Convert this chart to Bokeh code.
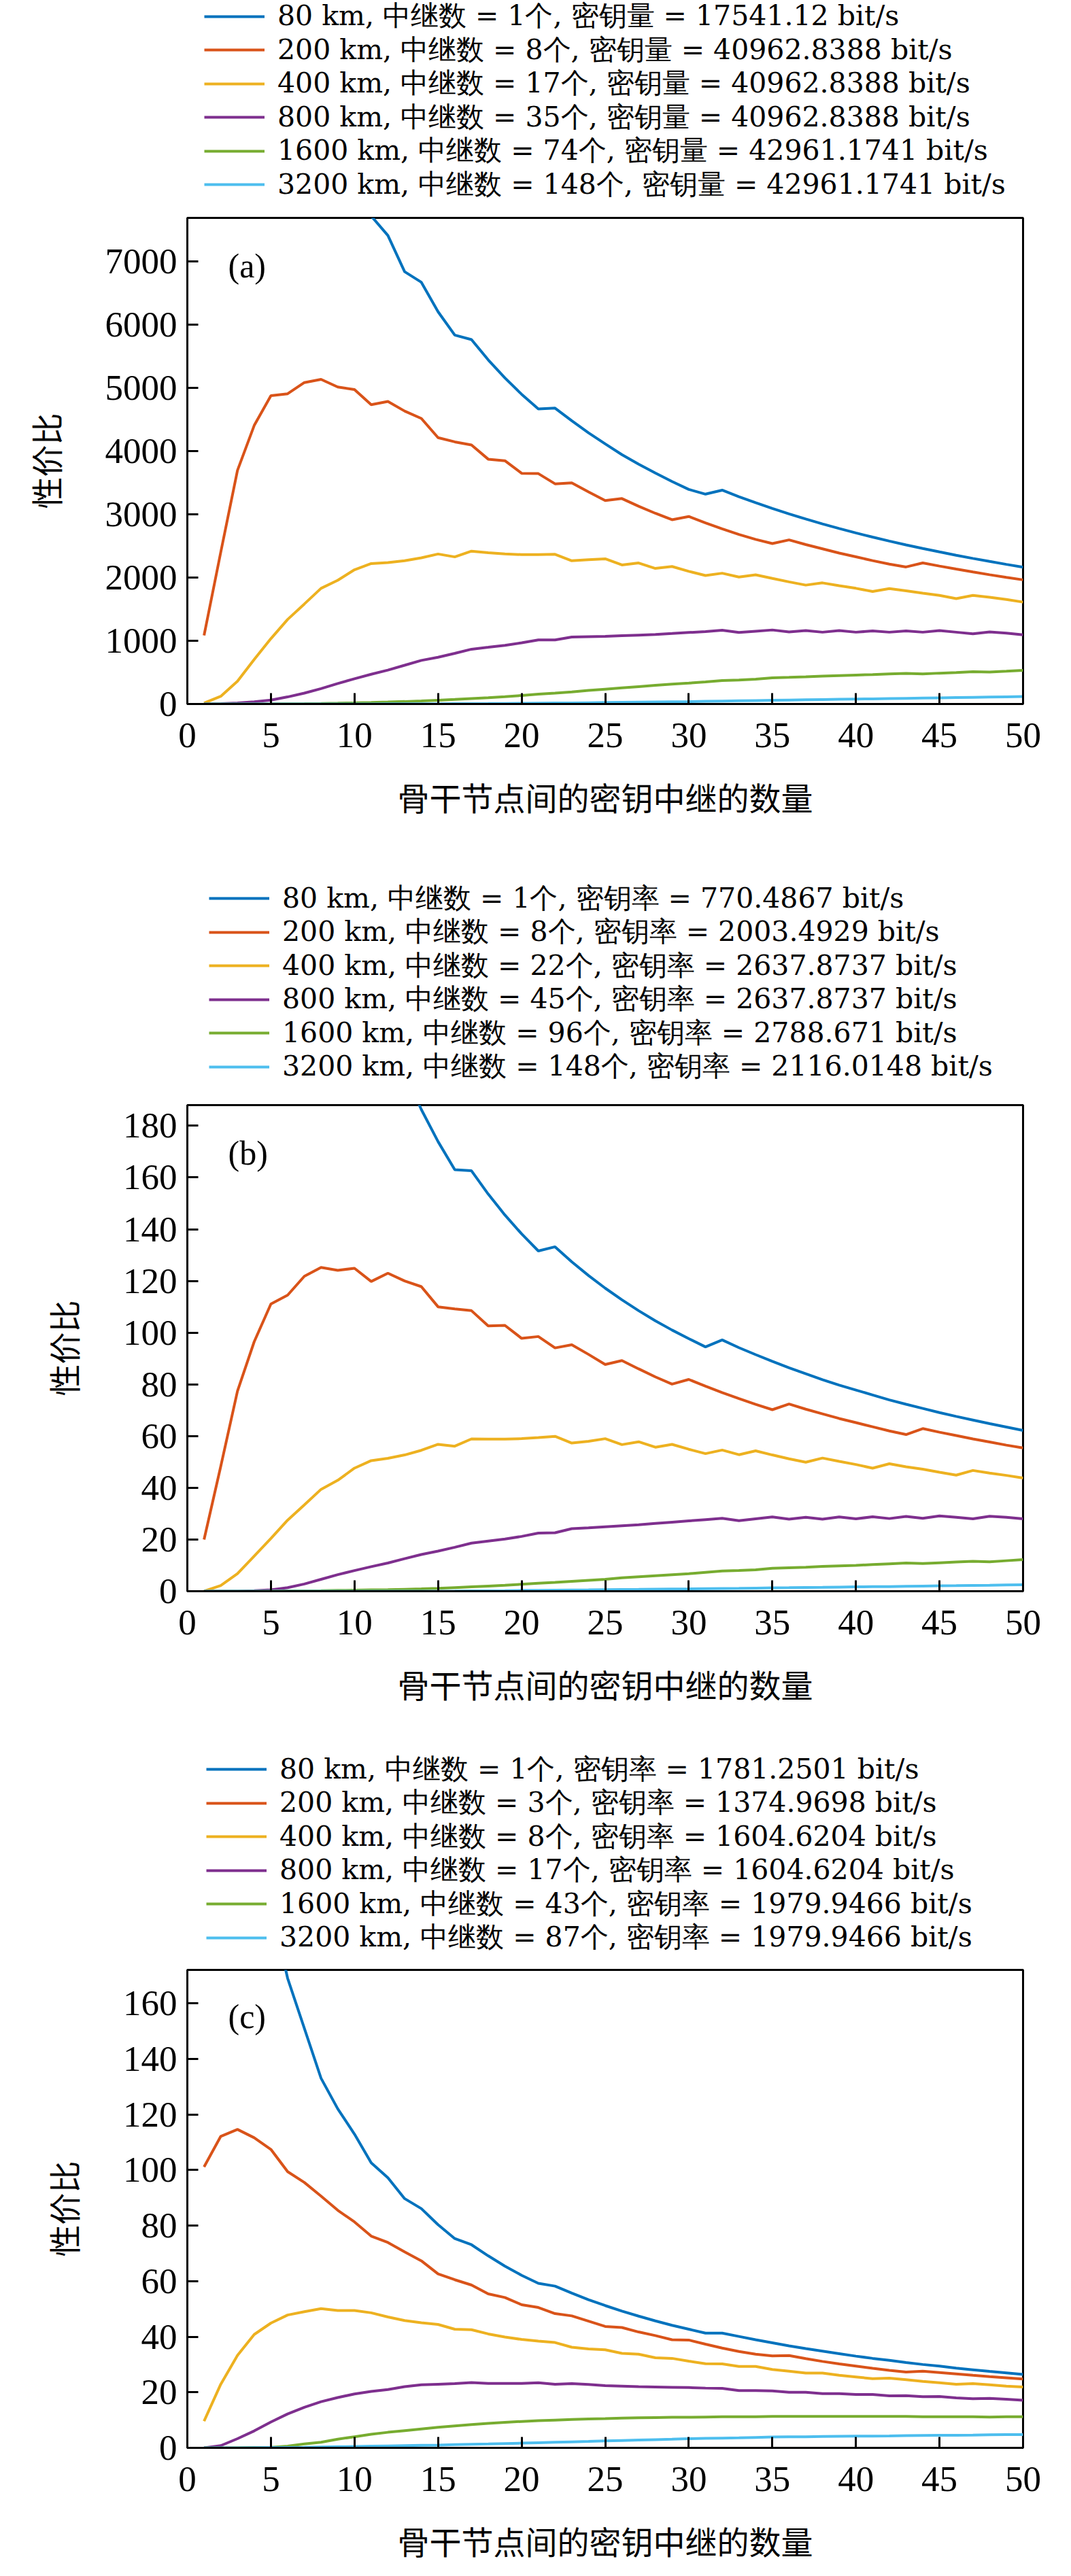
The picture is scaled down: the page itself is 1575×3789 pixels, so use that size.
from bokeh.plotting import figure
from bokeh.models import Legend, LegendItem, Range1d, FixedTicker, Label
from bokeh.layouts import column
from bokeh.embed import file_html
from bokeh.resources import INLINE

# ---------------- data ----------------
relays = list(range(1, 51))
x_ticks = [0, 5, 10, 15, 20, 25, 30, 35, 40, 45, 50]
colors = ["#0072BD", "#D95319", "#EDB120", "#7E2F8E", "#77AC30", "#4DBEEE"]
distances = ["80 km", "200 km", "400 km", "800 km", "1600 km", "3200 km"]

# panel (a)
a_counts = ["1", "8", "17", "35", "74", "148"]
a_rates = ["17541.12", "40962.8388", "40962.8388", "40962.8388", "42961.1741", "42961.1741"]
a_y_ticks = [0, 1000, 2000, 3000, 4000, 5000, 6000, 7000]
a_80 = [30000, 22000, 18000, 15000, 13000, 11500, 10300, 9400, 8700, 8150,
        7720, 7412, 6839, 6672, 6206, 5836, 5765, 5444, 5158, 4900,
        4667, 4680, 4480, 4290, 4115, 3945, 3795, 3655, 3520, 3395,
        3320, 3383, 3280, 3184, 3093, 3007, 2926, 2849, 2776, 2706,
        2640, 2577, 2517, 2460, 2406, 2353, 2303, 2255, 2209, 2165]
a_200 = [1085, 2403, 3696, 4406, 4877, 4908, 5085, 5136, 5014, 4974,
         4735, 4786, 4634, 4517, 4213, 4147, 4097, 3873, 3848, 3650,
         3645, 3483, 3498, 3356, 3219, 3250, 3128, 3017, 2915, 2966,
         2865, 2770, 2682, 2604, 2538, 2596, 2522, 2455, 2388, 2328,
         2268, 2213, 2168, 2231, 2182, 2134, 2089, 2045, 2004, 1964]
a_400 = [15, 122, 360, 705, 1034, 1338, 1582, 1830, 1957, 2124,
         2221, 2236, 2266, 2312, 2373, 2327, 2418, 2393, 2373, 2363,
         2363, 2368, 2266, 2282, 2297, 2200, 2231, 2145, 2175, 2099,
         2033, 2069, 2008, 2043, 1987, 1932, 1881, 1916, 1871, 1830,
         1780, 1825, 1790, 1754, 1719, 1668, 1719, 1688, 1653, 1612]
a_800 = [0, 5, 15, 35, 61, 112, 172, 243, 324, 400,
         471, 537, 613, 690, 740, 801, 867, 897, 928, 968,
         1014, 1014, 1060, 1065, 1070, 1080, 1090, 1100, 1115, 1131,
         1146, 1166, 1131, 1151, 1171, 1141, 1161, 1136, 1161, 1136,
         1156, 1136, 1156, 1136, 1161, 1136, 1110, 1141, 1120, 1095]
a_1600 = [0, 0, 0, 1, 2, 4, 6, 9, 13, 18,
          24, 31, 39, 48, 60, 72, 86, 100, 115, 135,
          155, 172, 190, 215, 235, 255, 275, 295, 315, 330,
          350, 372, 380, 392, 415, 422, 430, 440, 450, 458,
          465, 475, 485, 475, 488, 498, 510, 505, 518, 532]
a_3200 = [0, 0, 0, 0, 0, 0, 0, 0, 0, 1,
          1, 2, 2, 3, 4, 5, 6, 7, 9, 11,
          13, 15, 17, 20, 23, 26, 29, 32, 35, 38,
          42, 46, 50, 54, 58, 62, 66, 70, 74, 78,
          82, 86, 90, 94, 98, 102, 106, 110, 114, 118]

# panel (b)
b_counts = ["1", "8", "22", "45", "96", "148"]
b_rates = ["770.4867", "2003.4929", "2637.8737", "2637.8737", "2788.671", "2116.0148"]
b_y_ticks = [0, 20, 40, 60, 80, 100, 120, 140, 160, 180]
b_80 = [770, 600, 500, 430, 380, 340, 310, 285, 262, 243,
        228, 214, 200.6, 186.3, 173.9, 163.0, 162.6, 153.6, 145.5, 138.2,
        131.6, 133.2, 127.4, 122.1, 117.2, 112.7, 108.5, 104.6, 101.0, 97.7,
        94.5, 97.2, 94.2, 91.5, 88.9, 86.4, 84.1, 81.8, 79.7, 77.8,
        75.9, 74.0, 72.3, 70.7, 69.1, 67.6, 66.2, 64.8, 63.5, 62.2]
b_200 = [20.0, 48.3, 77.4, 96.5, 111.1, 114.5, 121.8, 125.2, 124.1, 124.9,
         119.8, 123.0, 120.0, 117.8, 110.0, 109.2, 108.5, 102.6, 102.8, 97.8,
         98.5, 94.1, 95.3, 91.6, 87.7, 89.2, 86.0, 82.9, 80.1, 81.9,
         79.3, 76.8, 74.5, 72.3, 70.2, 72.4, 70.4, 68.6, 66.8, 65.2,
         63.6, 62.0, 60.6, 62.9, 61.5, 60.2, 58.9, 57.7, 56.5, 55.4]
b_400 = [0, 2.2, 6.8, 13.6, 20.4, 27.5, 33.4, 39.4, 42.9, 47.6,
         50.5, 51.4, 52.7, 54.5, 56.8, 56.1, 58.9, 58.8, 58.8, 59.0,
         59.4, 59.9, 57.3, 58.0, 59.0, 56.7, 57.8, 55.7, 56.8, 54.9,
         53.2, 54.6, 52.8, 54.3, 52.7, 51.2, 49.9, 51.5, 50.2, 49.0,
         47.6, 49.3, 48.1, 47.2, 46.0, 44.9, 46.7, 45.7, 44.8, 43.8]
b_800 = [0, 0, 0, 0.2, 0.5, 1.4, 2.8, 4.6, 6.4, 8.0,
         9.5, 10.9, 12.6, 14.2, 15.5, 17.0, 18.6, 19.4, 20.2, 21.2,
         22.5, 22.6, 24.2, 24.5, 24.9, 25.3, 25.7, 26.2, 26.7, 27.2,
         27.7, 28.2, 27.3, 28.0, 28.7, 27.9, 28.6, 27.9, 28.7, 28.0,
         28.8, 28.1, 28.9, 28.2, 29.1, 28.6, 28.0, 29.0, 28.6, 28.0]
b_1600 = [0, 0, 0, 0, 0.05, 0.1, 0.15, 0.2, 0.3, 0.4,
          0.5, 0.6, 0.75, 0.9, 1.1, 1.4, 1.7, 2.0, 2.3, 2.7,
          3.1, 3.4, 3.8, 4.2, 4.6, 5.2, 5.6, 6.0, 6.4, 6.8,
          7.3, 7.8, 8.0, 8.3, 8.9, 9.1, 9.3, 9.6, 9.8, 10.0,
          10.3, 10.6, 10.9, 10.7, 11.0, 11.3, 11.6, 11.4, 11.8, 12.2]
b_3200 = [0, 0, 0, 0, 0, 0, 0, 0, 0, 0,
          0, 0, 0, 0, 0.02, 0.05, 0.1, 0.15, 0.2, 0.3,
          0.35, 0.4, 0.45, 0.5, 0.6, 0.65, 0.7, 0.78, 0.85, 0.9,
          1.0, 1.05, 1.1, 1.2, 1.3, 1.35, 1.45, 1.5, 1.6, 1.7,
          1.75, 1.8, 1.9, 2.0, 2.1, 2.15, 2.25, 2.3, 2.4, 2.5]

# panel (c)
c_counts = ["1", "3", "8", "17", "43", "87"]
c_rates = ["1781.2501", "1374.9698", "1604.6204", "1604.6204", "1979.9466", "1979.9466"]
c_y_ticks = [0, 20, 40, 60, 80, 100, 120, 140, 160]
c_80 = [800, 420, 300, 240, 195, 169, 151, 133, 122, 112.9,
        102.6, 97.2, 89.7, 86.1, 80.3, 75.3, 73.1, 69.1, 65.4, 62.1,
        59.2, 58.2, 55.7, 53.3, 51.2, 49.2, 47.4, 45.7, 44.1, 42.7,
        41.3, 41.3, 40.1, 38.9, 37.8, 36.7, 35.7, 34.8, 33.9, 33.0,
        32.2, 31.5, 30.7, 30.0, 29.4, 28.7, 28.1, 27.5, 27.0, 26.4]
c_200 = [101.1, 112.1, 114.6, 111.6, 107.4, 99.4, 95.5, 90.6, 85.5, 81.3,
         76.2, 73.9, 70.5, 67.3, 62.6, 60.5, 58.6, 55.4, 54.1, 51.5,
         50.5, 48.3, 47.5, 45.6, 43.7, 43.3, 41.7, 40.4, 38.9, 38.8,
         37.3, 35.9, 34.7, 33.7, 33.1, 33.2, 32.1, 31.1, 30.2, 29.4,
         28.6, 27.9, 27.3, 27.6, 27.1, 26.6, 26.1, 25.6, 25.2, 24.8]
c_400 = [9.6, 22.9, 33.3, 40.8, 44.9, 47.8, 49.0, 50.1, 49.4, 49.4,
         48.6, 47.1, 45.8, 45.0, 44.4, 42.7, 42.5, 41.0, 39.9, 39.0,
         38.4, 37.9, 36.2, 35.6, 35.3, 34.0, 33.7, 32.4, 32.2, 31.2,
         30.3, 30.2, 29.3, 29.3, 28.2, 27.6, 26.9, 26.9, 26.1, 25.5,
         24.9, 25.1, 24.5, 23.9, 23.4, 22.9, 23.1, 22.7, 22.2, 21.9]
c_800 = [0, 0.8, 3.3, 6.1, 9.3, 12.2, 14.6, 16.6, 18.1, 19.4,
         20.3, 21.0, 22.0, 22.7, 22.9, 23.1, 23.5, 23.2, 23.2, 23.2,
         23.4, 22.9, 23.1, 22.8, 22.4, 22.2, 22.0, 21.9, 21.8, 21.7,
         21.5, 21.4, 20.6, 20.6, 20.5, 20.0, 20.0, 19.5, 19.5, 19.2,
         19.2, 18.7, 18.8, 18.4, 18.5, 18.0, 17.7, 17.8, 17.5, 17.1]
c_1600 = [0, 0, 0, 0.1, 0.2, 0.6, 1.4, 2.0, 3.1, 4.0,
          4.9, 5.6, 6.2, 6.8, 7.4, 7.9, 8.4, 8.8, 9.2, 9.5,
          9.8, 10.0, 10.2, 10.4, 10.5, 10.7, 10.8, 10.9, 11.0, 11.0,
          11.1, 11.2, 11.2, 11.2, 11.3, 11.3, 11.3, 11.3, 11.3, 11.3,
          11.3, 11.3, 11.3, 11.2, 11.2, 11.2, 11.2, 11.1, 11.2, 11.2]
c_3200 = [0, 0, 0, 0.05, 0.1, 0.15, 0.2, 0.3, 0.4, 0.5,
          0.6, 0.7, 0.8, 0.9, 1.0, 1.15, 1.3, 1.4, 1.55, 1.7,
          1.85, 2.0, 2.15, 2.3, 2.5, 2.65, 2.8, 2.95, 3.1, 3.3,
          3.4, 3.5, 3.6, 3.75, 3.9, 3.95, 4.0, 4.1, 4.15, 4.2,
          4.25, 4.3, 4.4, 4.45, 4.5, 4.55, 4.6, 4.7, 4.75, 4.8]

x_label = "骨干节点间的密钥中继的数量"
y_label = "性价比"

CJK = "Noto Sans CJK SC"
W = 1559
FW = 1229
BL = 275
BR = W - BL - FW
LINE_W = 4
ROW = 49.5
BOX = 60


def make_legend_fig(series, counts, rates, rate_name, height, leg_x, first_center):
    # legend-only strip above each panel; its data lies outside the view
    q = figure(width=W, height=height, x_range=Range1d(-3, -2), y_range=Range1d(0, 1),
               output_backend="svg", toolbar_location=None,
               x_axis_location=None, y_axis_location=None,
               min_border_left=BL, min_border_right=BR,
               min_border_top=0, min_border_bottom=0,
               outline_line_color=None,
               background_fill_color="white", border_fill_color="white")
    q.grid.visible = False
    for i, (vals, col, dist, cnt, rate) in enumerate(zip(series, colors, distances, counts, rates)):
        r = q.line(relays, vals, line_color=col, line_width=LINE_W)
        lab = f"{dist}, 中继数 = {cnt}个, {rate_name} = {rate} bit/s"
        center = first_center + ROW * i
        leg = Legend(items=[LegendItem(label=lab, renderers=[r])],
                     location=(leg_x, height - center - BOX / 2),
                     padding=0, spacing=0, margin=0,
                     glyph_width=89, glyph_height=BOX, label_height=BOX,
                     label_standoff=19,
                     label_text_font="DejaVu Serif", label_text_font_size="41px",
                     label_text_baseline="middle",
                     label_text_color="black",
                     border_line_color=None, background_fill_alpha=0)
        q.add_layout(leg)
    return q


def make_panel(series, y_ticks, ymax, tag, height, border_top, frame_h):
    p = figure(width=W, height=height,
               x_range=Range1d(0, 50), y_range=Range1d(0, ymax),
               output_backend="svg", toolbar_location=None,
               min_border_left=BL, min_border_right=BR,
               min_border_top=border_top,
               min_border_bottom=height - border_top - frame_h,
               background_fill_color="white", border_fill_color="white")
    p.xgrid.visible = False
    p.ygrid.visible = False
    p.outline_line_color = "black"
    p.outline_line_width = 3
    p.outline_line_alpha = 1.0

    for ax in (p.xaxis[0], p.yaxis[0]):
        ax.axis_line_color = "black"
        ax.axis_line_width = 3
        ax.major_tick_in = 16
        ax.major_tick_out = 0
        ax.major_tick_line_width = 3
        ax.major_tick_line_color = "black"
        ax.minor_tick_line_color = None
        ax.major_label_text_font = "Liberation Serif"
        ax.major_label_text_font_size = "53px"
        ax.major_label_text_color = "black"
        ax.axis_label_text_font = CJK
        ax.axis_label_text_font_size = "47px"
        ax.axis_label_text_font_style = "normal"
        ax.axis_label_text_color = "black"

    p.xaxis.ticker = FixedTicker(ticks=x_ticks)
    p.yaxis.ticker = FixedTicker(ticks=y_ticks)
    p.xaxis.major_label_standoff = 28
    p.yaxis.major_label_standoff = 15
    p.xaxis.axis_label = x_label
    p.yaxis.axis_label = y_label
    p.xaxis.axis_label_standoff = 35
    p.yaxis.axis_label_standoff = 51

    for vals, col in zip(series, colors):
        p.line(relays, vals, line_color=col, line_width=LINE_W)

    p.add_layout(Label(x=2.44, y=ymax * (1 - 70 / 715), text=tag,
                       text_font="Liberation Serif", text_font_size="50px",
                       text_baseline="middle", text_align="left",
                       text_color="black"))
    return p


a_series = [a_80, a_200, a_400, a_800, a_1600, a_3200]
b_series = [b_80, b_200, b_400, b_800, b_1600, b_3200]
c_series = [c_80, c_200, c_400, c_800, c_1600, c_3200]

la = make_legend_fig(a_series, a_counts, a_rates, "密钥量", 305, 25, 23.7)
pa = make_panel(a_series, a_y_ticks, 7690, "(a)", 983, 15, 715)
lb = make_legend_fig(b_series, b_counts, b_rates, "密钥率", 310, 32, 33)
pb = make_panel(b_series, b_y_ticks, 188, "(b)", 974, 27, 715)
lc = make_legend_fig(c_series, c_counts, c_rates, "密钥率", 306, 28, 30)
pc = make_panel(c_series, c_y_ticks, 172, "(c)", 895, 19, 714)

layout = column(la, pa, lb, pb, lc, pc, spacing=0)
open("out.html", "w").write(file_html(layout, INLINE))
